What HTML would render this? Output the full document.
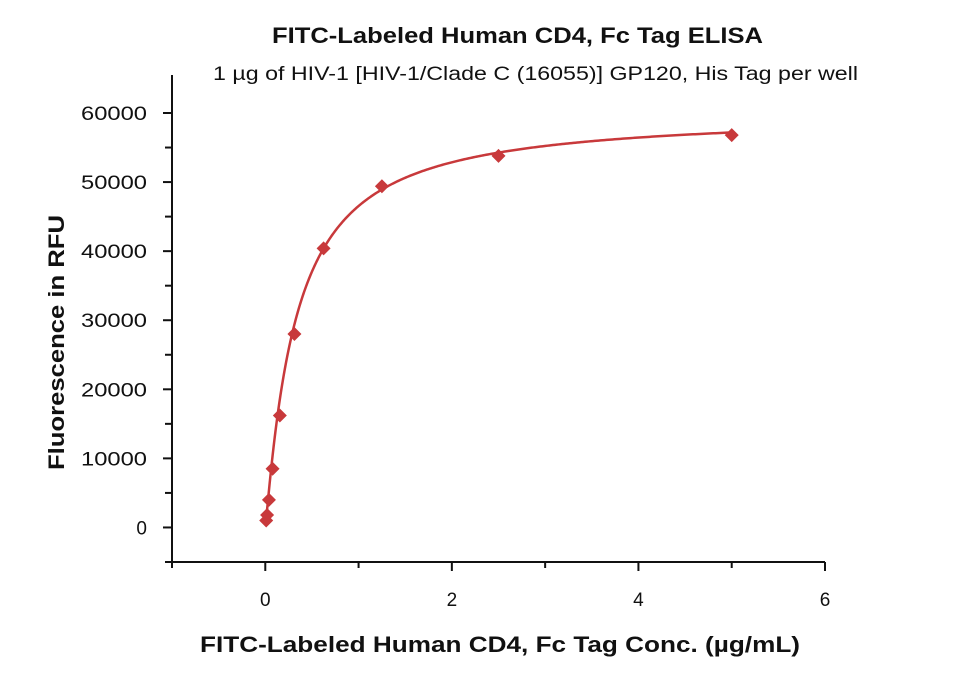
<!DOCTYPE html>
<html><head><meta charset="utf-8"><style>
body{margin:0;background:#fff;}
svg{display:block;font-family:"Liberation Sans","DejaVu Sans",sans-serif;}
</style></head><body>
<svg id="chart" width="960" height="674" viewBox="0 0 960 674">
<text x="272" y="43" textLength="491" lengthAdjust="spacingAndGlyphs" font-size="22" font-weight="bold" fill="#111">FITC-Labeled Human CD4, Fc Tag ELISA</text>
<text x="213" y="80" textLength="645" lengthAdjust="spacingAndGlyphs" font-size="19" fill="#111">1 µg of HIV-1 [HIV-1/Clade C (16055)] GP120, His Tag per well</text>
<text x="200" y="652" textLength="600" lengthAdjust="spacingAndGlyphs" font-size="22" font-weight="bold" fill="#111">FITC-Labeled Human CD4, Fc Tag Conc. (µg/mL)</text>
<text transform="translate(64,470) rotate(-90)" textLength="255" lengthAdjust="spacingAndGlyphs" font-size="22" font-weight="bold" fill="#111">Fluorescence in RFU</text>
<g id="axes"></g>
<path id="curve" fill="none" stroke="#c8393b" stroke-width="2.5"></path>
<g id="points"></g>
</svg>
<script>
const xConc = [5, 2.5, 1.25, 0.625, 0.3125, 0.156, 0.078, 0.039, 0.0195, 0.0098];
const yRFU = [56800, 53800, 49400, 40400, 28000, 16200, 8500, 4000, 1800, 1000];
const xTicks = [0, 2, 4, 6];
const yTicks = [0, 10000, 20000, 30000, 40000, 50000, 60000];
const fitBmax = 60000, fitK = 0.324, fitH = 1.1;

const NS = "http://www.w3.org/2000/svg";
const X0 = 172, X1 = 825, Y0 = 562, Y1 = 75;
const xMin = -1, xMax = 6, yMin = -5000, yMax = 65500;
const sx = v => X0 + (v - xMin) / (xMax - xMin) * (X1 - X0);
const sy = v => Y0 - (v - yMin) / (yMax - yMin) * (Y0 - Y1);
function mk(tag, attrs, parent) {
  const e = document.createElementNS(NS, tag);
  for (const k in attrs) e.setAttribute(k, attrs[k]);
  parent.appendChild(e); return e;
}
const axes = document.getElementById('axes');
const ax = mk('line', {x1: X0, y1: Y0, x2: X1, y2: Y0, stroke: '#111', 'stroke-width': 2}, axes);


const ay = mk('line', {x1: X0, y1: Y0, x2: X0, y2: Y1, stroke: '#111', 'stroke-width': 2}, axes);


for (let v = xMin; v <= xMax; v++) {
  const major = xTicks.includes(v);
  const t = mk('line', {x1: sx(v), y1: Y0, x2: sx(v), y2: Y0 + (major ? 9 : 6), stroke: '#111', 'stroke-width': 2}, axes);
  
  
  if (major) {
    const l = mk('text', {x: sx(v), y: 606, 'text-anchor': 'middle', 'font-size': 19, fill: '#111'}, axes);
    l.textContent = v;
    
    
  }
}
for (let v = -5000; v <= 60000; v += 5000) {
  const major = yTicks.includes(v);
  const t = mk('line', {x1: X0 - (major ? 9 : 7), y1: sy(v), x2: X0, y2: sy(v), stroke: '#111', 'stroke-width': 2}, axes);
  
  
  if (major) {
    const attrs = {x: 147, y: sy(v) + 7, 'text-anchor': 'end', 'font-size': 19, fill: '#111'};
    if (v >= 10000) { attrs.textLength = 66; attrs.lengthAdjust = 'spacingAndGlyphs'; }
    const l = mk('text', attrs, axes);
    l.textContent = v;
    
    
  }
}
let d = '';
for (let i = 0; i <= 400; i++) {
  const x = 0.0098 + (5 - 0.0098) * Math.pow(i / 400, 2);
  const y = fitBmax * Math.pow(x, fitH) / (Math.pow(fitK, fitH) + Math.pow(x, fitH));
  d += (i ? 'L' : 'M') + sx(x).toFixed(2) + ',' + sy(y).toFixed(2);
}
document.getElementById('curve').setAttribute('d', d);
const pts = document.getElementById('points');
xConc.forEach((x, i) => {
  const cx = sx(x), cy = sy(yRFU[i]), r = 7;
  const p = mk('polygon', {points: `${cx},${cy - r} ${cx + r},${cy} ${cx},${cy + r} ${cx - r},${cy}`, fill: '#c8393b'}, pts);
  
  
});
</script>
</body></html>
